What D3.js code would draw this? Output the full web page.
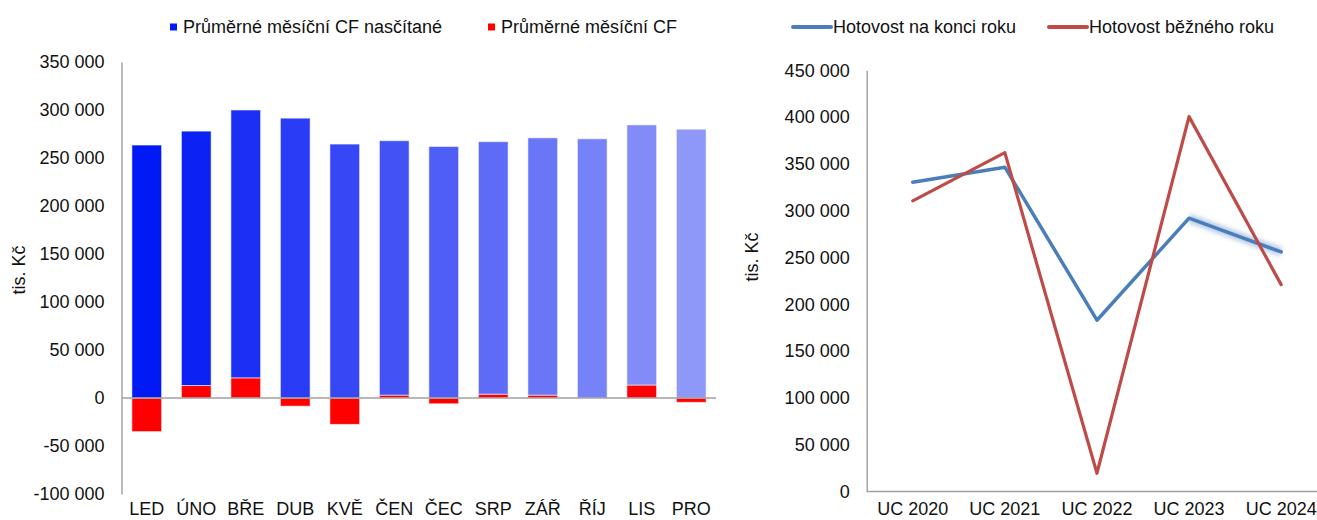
<!DOCTYPE html>
<html><head><meta charset="utf-8">
<script src="https://cdn.jsdelivr.net/npm/d3@7"></script>
<style>
html,body{margin:0;padding:0;background:#fff;}
svg text{font-family:"Liberation Sans",Arial,sans-serif;fill:#111;}
</style></head>
<body>
<svg id="c" width="1317" height="520"></svg>
<script>
// ---- data ----
const months = ["LED","ÚNO","BŘE","DUB","KVĚ","ČEN","ČEC","SRP","ZÁŘ","ŘÍJ","LIS","PRO"];
const cfCumulative = [263500,265000,279000,291500,264500,265000,262000,263000,268000,270000,271000,280000];
const cfMonthly = [-35000,13000,21000,-8500,-27500,3000,-6000,4000,3000,0,13500,-4500];
const leftTicks = [-100000,-50000,0,50000,100000,150000,200000,250000,300000,350000];
const leftSeriesNames = ["Průměrné měsíční CF nasčítané","Průměrné měsíční CF"];

const years = ["UC 2020","UC 2021","UC 2022","UC 2023","UC 2024"];
const cashEnd = [330500,346500,183000,292000,256000];
const cashYear = [310500,362000,19500,400500,221000];
const rightTicks = [0,50000,100000,150000,200000,250000,300000,350000,400000,450000];
const rightSeriesNames = ["Hotovost na konci roku","Hotovost běžného roku"];

// ---- styles ----
const barBlues = ["#0019f5","#0c22f5","#1c30f5","#2a3cf5","#3647f5","#4252f5","#4f5ef6","#5d6bf7","#6876f7","#7682f7","#818cf8","#8e98f9"];
const red = "#ff0000";
const lineBlue = "#4a7ebb", lineRed = "#be4b48";
const axisCol = "#a0a0a0";
const FS = 18;

const fmt = d3.formatLocale({decimal:",",thousands:" ",grouping:[3],currency:["",""],minus:"-"}).format(",d");
const svg = d3.select("#c");

// ================= LEFT CHART =================
const x = d3.scaleBand().domain(months).range([122,716]).paddingInner(0.4).paddingOuter(0.2);
const y = d3.scaleLinear().domain([-100000,350000]).range([494,62]);

const rows = months.map((m,i)=>({m, red:cfMonthly[i], blue:cfCumulative[i], i}));
const stack = d3.stack().keys(["red","blue"]).offset(d3.stackOffsetDiverging);
const series = stack(rows);

const gL = svg.append("g");
series.forEach(s=>{
  gL.append("g").selectAll("rect").data(s).enter().append("rect")
    .attr("x", d=>x(d.data.m))
    .attr("width", x.bandwidth())
    .attr("y", d=>y(Math.max(d[0],d[1])))
    .attr("height", d=>Math.abs(y(d[0])-y(d[1])))
    .attr("fill", d=> s.key==="red" ? red : barBlues[d.data.i])
    .attr("stroke","#fff").attr("stroke-opacity",0.55).attr("stroke-width",1);
});

// y axis
const yAx = gL.append("g").attr("transform","translate(121.5,0)")
  .call(d3.axisLeft(y).tickValues(leftTicks).tickFormat(fmt).tickSize(0).tickPadding(17));
yAx.select(".domain").attr("stroke",axisCol).attr("stroke-width",1.4);
yAx.selectAll("text").style("font-size",FS+"px").attr("fill","#111");

// zero line
gL.append("line").attr("x1",121.5).attr("x2",716).attr("y1",y(0)).attr("y2",y(0))
  .attr("stroke",axisCol).attr("stroke-width",1.4);

// x labels
const xAx = gL.append("g").attr("transform","translate(0,494)")
  .call(d3.axisBottom(x).tickSize(0).tickPadding(8.5));
xAx.select(".domain").remove();
xAx.selectAll("text").style("font-size",FS+"px").attr("fill","#111");

gL.append("text").attr("transform","translate(25,270) rotate(-90)")
  .attr("text-anchor","middle").style("font-size",FS+"px").text("tis. Kč");

// legend left
const legL = [{n:leftSeriesNames[0],c:barBlues[0],x:170},{n:leftSeriesNames[1],c:red,x:488}];
legL.forEach(l=>{
  gL.append("rect").attr("x",l.x).attr("y",23.5).attr("width",7).attr("height",7).attr("fill",l.c);
  gL.append("text").attr("x",l.x+13).attr("y",27).attr("dy","0.35em").style("font-size",FS+"px").text(l.n);
});

// ================= RIGHT CHART =================
const xr = d3.scalePoint().domain(years).range([866.7,1327.2]).padding(0.5);
const yr = d3.scaleLinear().domain([0,450000]).range([491.5,70.3]);
const gR = svg.append("g");

const yrAx = gR.append("g").attr("transform","translate(866.7,0)")
  .call(d3.axisLeft(yr).tickValues(rightTicks).tickFormat(fmt).tickSize(0).tickPadding(17));
yrAx.select(".domain").attr("stroke",axisCol).attr("stroke-width",1.4);
yrAx.selectAll("text").style("font-size",FS+"px").attr("fill","#111");

gR.append("line").attr("x1",866.7).attr("x2",1327).attr("y1",yr(0)).attr("y2",yr(0))
  .attr("stroke",axisCol).attr("stroke-width",1.4);

const xb = d3.scaleBand().domain(years).range([866.7,1327.2]);
const xrAx = gR.append("g").attr("transform","translate(0,491.5)")
  .call(d3.axisBottom(xb).tickSize(0).tickPadding(11));
xrAx.select(".domain").remove();
xrAx.selectAll("text").style("font-size",FS+"px").attr("fill","#111");

gR.append("text").attr("transform","translate(758,257) rotate(-90)")
  .attr("text-anchor","middle").style("font-size",FS+"px").text("tis. Kč");

// glow on highlighted segment
const defs = svg.append("defs");
defs.append("filter").attr("id","glow").attr("x","-20%").attr("y","-50%").attr("width","140%").attr("height","200%")
  .append("feGaussianBlur").attr("stdDeviation",2);

const line = d3.line().x(d=>xr(d.k)).y(d=>yr(d.v));
const endPts = years.map((k,i)=>({k,v:cashEnd[i]}));
const yearPts = years.map((k,i)=>({k,v:cashYear[i]}));

gR.append("path").datum(endPts.slice(3)).attr("d",line).attr("fill","none")
  .attr("stroke","#9db8df").attr("stroke-width",9).attr("stroke-opacity",0.7).attr("filter","url(#glow)");
gR.append("path").datum(endPts).attr("d",line).attr("fill","none")
  .attr("stroke",lineBlue).attr("stroke-width",3.5).attr("stroke-linejoin","round").attr("stroke-linecap","round");
gR.append("path").datum(yearPts).attr("d",line).attr("fill","none")
  .attr("stroke",lineRed).attr("stroke-width",3.2).attr("stroke-linejoin","round").attr("stroke-linecap","round");

// legend right
const legR = [{n:rightSeriesNames[0],c:lineBlue,x:793},{n:rightSeriesNames[1],c:lineRed,x:1049}];
legR.forEach(l=>{
  gR.append("line").attr("x1",l.x).attr("x2",l.x+38).attr("y1",27).attr("y2",27)
    .attr("stroke",l.c).attr("stroke-width",4).attr("stroke-linecap","round");
  gR.append("text").attr("x",l.x+40).attr("y",27).attr("dy","0.35em").style("font-size",FS+"px").text(l.n);
});
</script>
</body></html>
